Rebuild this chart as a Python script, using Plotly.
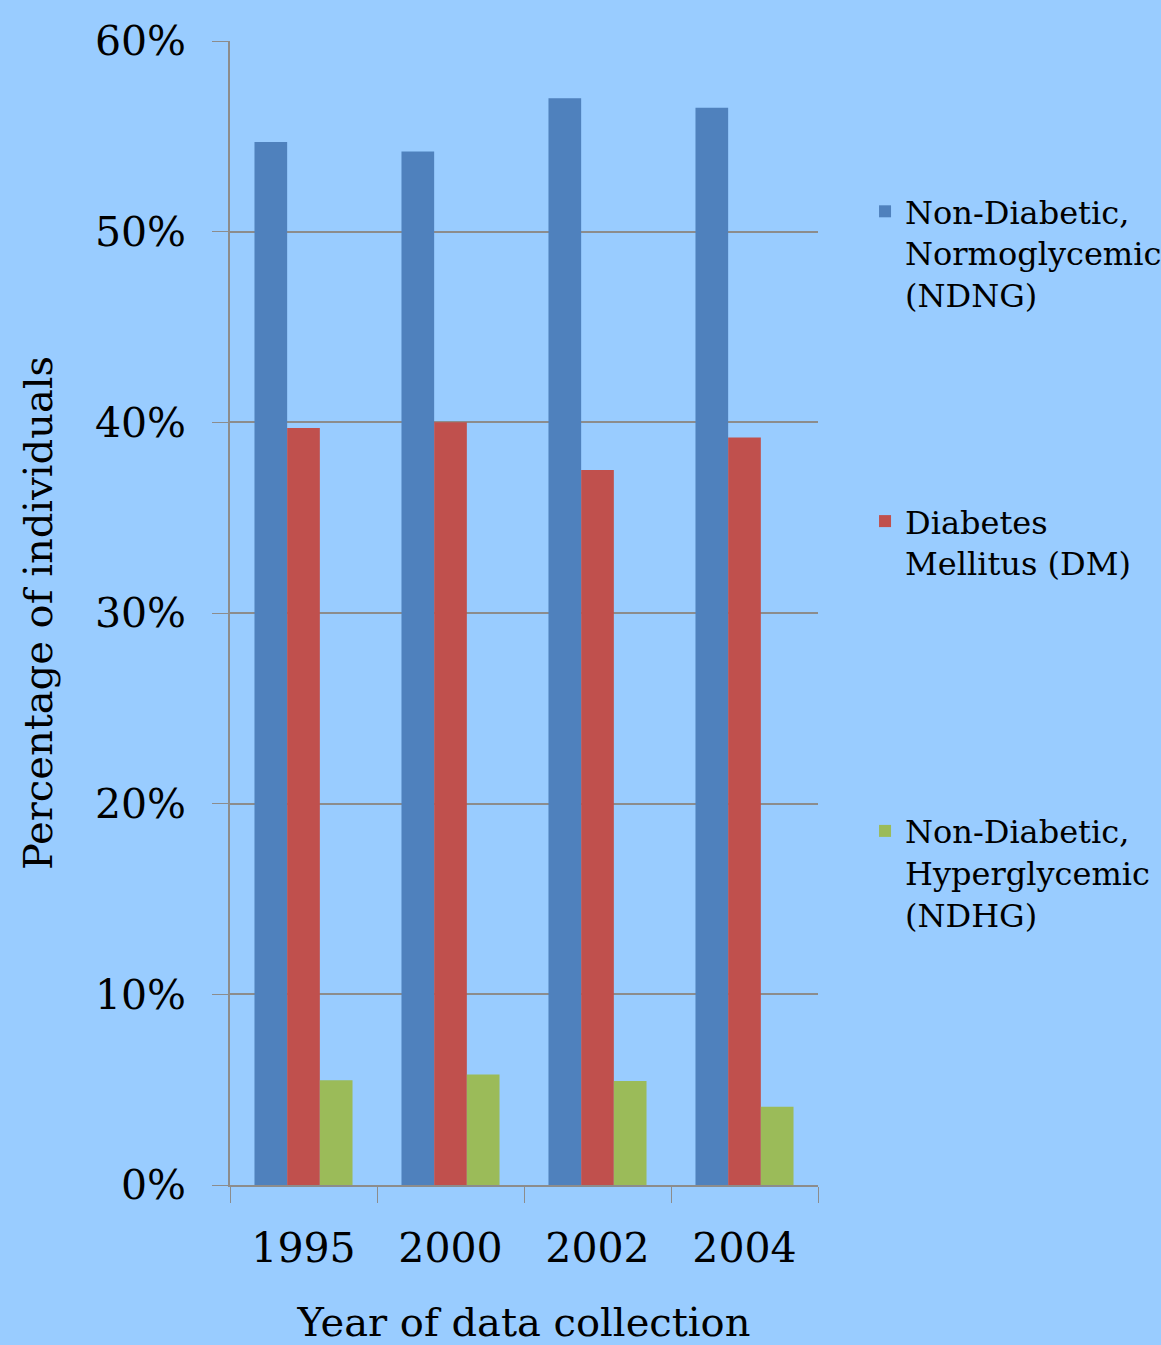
import plotly.graph_objects as go

years = ["1995", "2000", "2002", "2004"]
ndng = [54.7, 54.2, 57.0, 56.5]
dm = [39.7, 40.0, 37.5, 39.2]
ndhg = [5.5, 5.8, 5.45, 4.1]

names = [
    "Non-Diabetic,<br>Normoglycemic<br>(NDNG)",
    "Diabetes<br>Mellitus (DM)<br> ",
    "Non-Diabetic,<br>Hyperglycemic<br>(NDHG)",
]
colors = ["#4F81BD", "#C0504D", "#9BBB59"]
series = [ndng, dm, ndhg]

FONT = "DejaVu Serif"
fig = go.Figure()
for i, (nm, col, vals) in enumerate(zip(names, colors, series)):
    fig.add_trace(go.Bar(x=years, y=vals, name=nm, marker_color=col,
                         marker_line_width=0, legendgroup=f"g{i}"))

fig.update_layout(
    width=1161, height=1345,
    margin=dict(l=230, r=343, t=41, b=160, autoexpand=False),
    paper_bgcolor="#99CCFF", plot_bgcolor="#99CCFF",
    barmode="group", bargap=0.333, bargroupgap=0,
    font=dict(family=FONT, color="black"),
    legend=dict(x=1.08, xanchor="left", y=0.875, yanchor="top",
                font=dict(size=32, family=FONT), traceorder="grouped",
                tracegroupgap=182, valign="top", bgcolor="rgba(0,0,0,0)"),
)
fig.update_yaxes(range=[0, 60], dtick=10, ticksuffix="%",
                 showgrid=True, gridcolor="#8C8C8C", gridwidth=1.5,
                 showline=True, linecolor="#8C8C8C", linewidth=1.5,
                 ticks="outside", ticklen=16, tickcolor="#8C8C8C",
                 ticklabelstandoff=18,
                 tickfont=dict(size=41, family=FONT), zeroline=False,
                 title=dict(text="Percentage of individuals",
                            font=dict(size=40, family=FONT), standoff=30))
fig.update_xaxes(showline=True, linecolor="#8C8C8C", linewidth=1.5,
                 ticks="outside", ticklen=16, tickcolor="#8C8C8C",
                 tickson="boundaries", mirror=False,
                 ticklabelstandoff=26,
                 tickfont=dict(size=41, family=FONT),
                 title=dict(text="Year of data collection",
                            font=dict(size=40, family=FONT), standoff=54))
fig.write_html("out.html", config={"displayModeBar": False},
               post_script="document.body.style.margin='0';")
